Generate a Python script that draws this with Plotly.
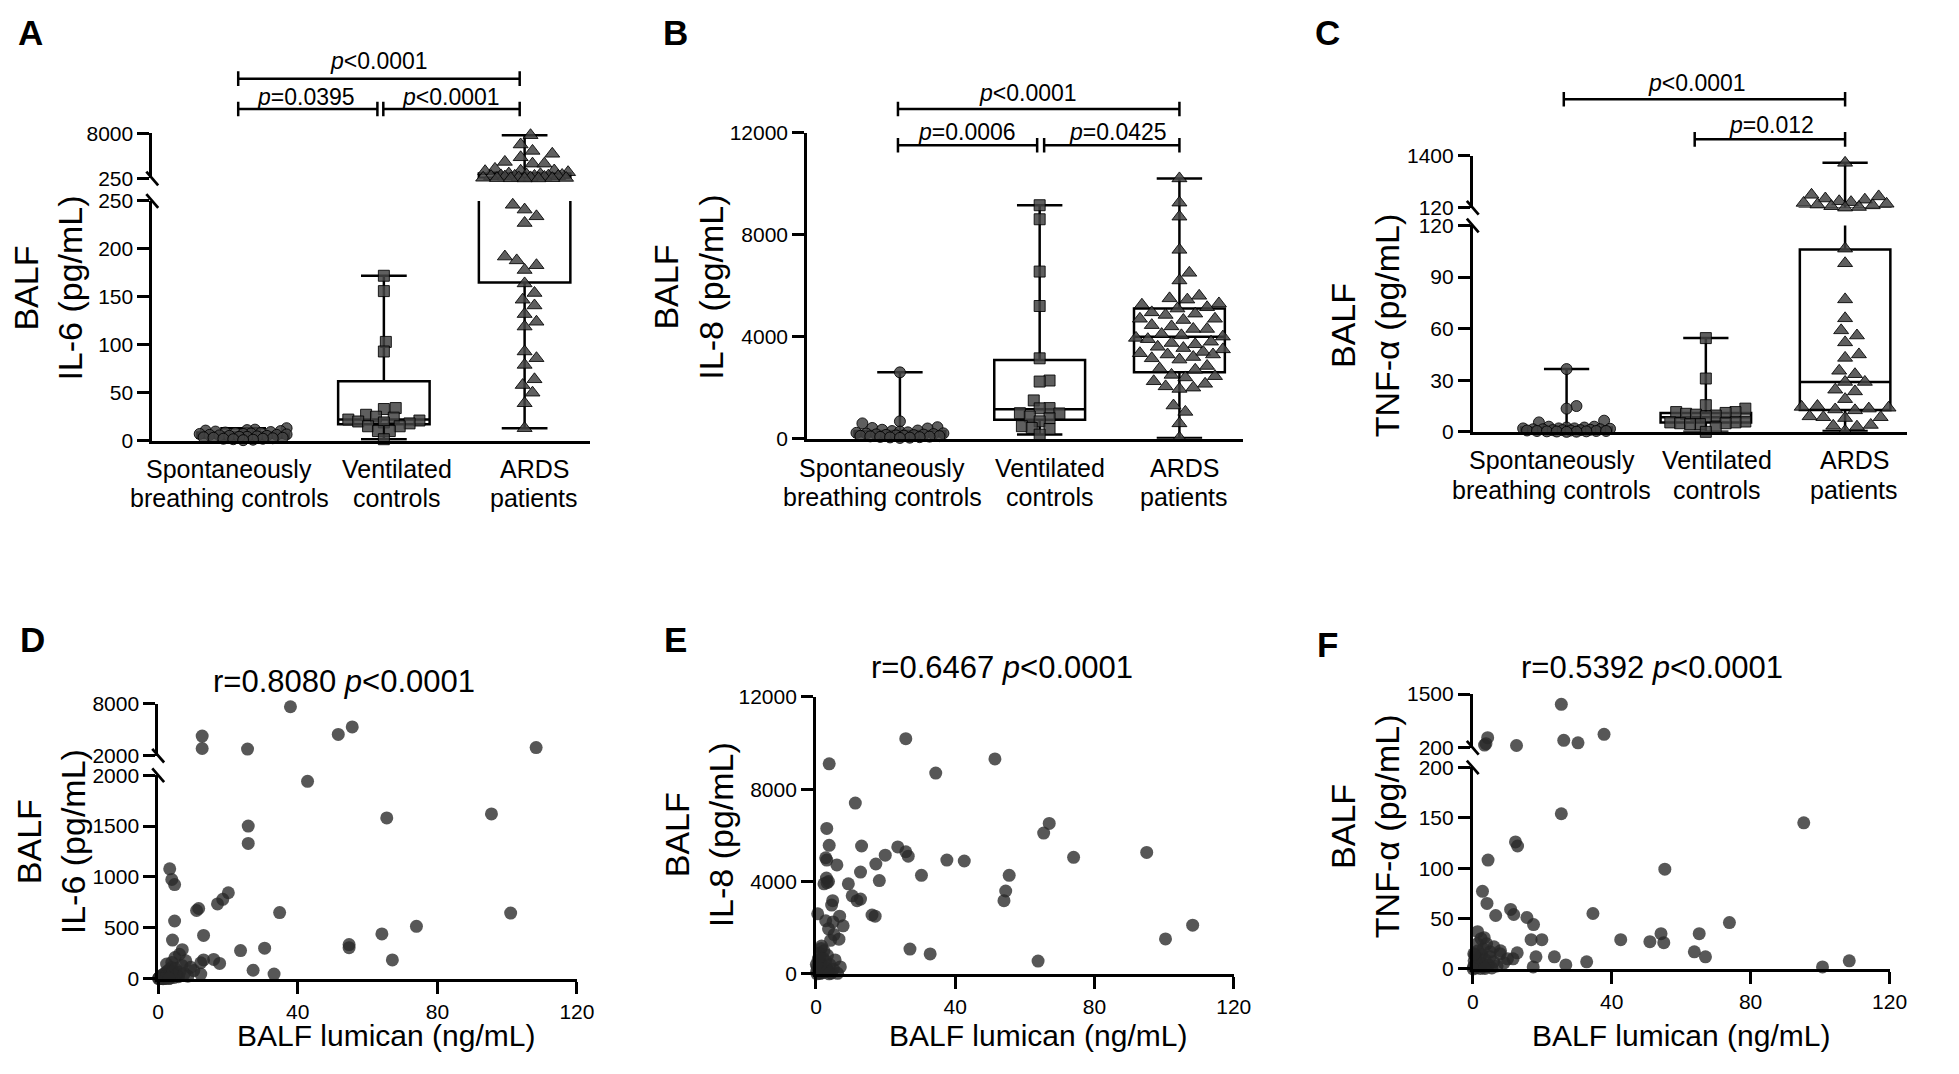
import numpy as np
import plotly.graph_objects as go

# target picture size and the page's default body margin
W, H = 1959, 1074
OFF = 8
FW, FH = W - 2 * OFF, H - 2 * OFF
FONT = "Arial, 'Liberation Sans', sans-serif"

# ---------------- data ----------------
groups_l1 = ["Spontaneously", "Ventilated", "ARDS"]
groups_l2 = ["breathing controls", "controls", "patients"]

# A: BALF IL-6 (pg/mL)
il6_spont = [13, 11.5, 11, 10.5, 10, 9.5, 9, 8.5, 8, 8, 7.5, 7, 7, 6.5, 6, 6, 5.5, 5, 5, 4.5,
             4, 4, 3.5, 3, 3, 2.5, 2, 2, 1.5, 1, 0.5]
il6_vent = [172, 156, 103, 93, 34, 33, 27, 25, 24, 22, 21, 20, 19, 18, 15, 15, 10, 10, 1.5]
il6_ards = [7700, 6100, 5000, 4500, 3900, 3100, 2800, 2800, 1900, 1620, 1580, 1500, 1330, 1090,
            980, 920, 850, 780, 730, 700, 690, 650, 650, 570, 520, 440, 430, 370, 340, 310, 300,
            280, 260, 255, 246, 241, 234, 227, 192, 188, 183, 178, 164, 154, 147, 141, 132, 124,
            119, 93, 86, 79, 64, 58, 50, 39, 13]
il6_min = [0.5, 1.5, 13]
il6_q1 = [3, 17, 165]
il6_med = [5.5, 22, 355]
il6_q3 = [8.5, 62, 1090]
il6_max = [13, 172, 7700]

# B: BALF IL-8 (pg/mL)
il8_spont = [2600, 680, 600, 450, 420, 400, 350, 320, 300, 280, 250, 230, 210, 200, 180, 170,
             160, 150, 140, 130, 120, 110, 100, 90, 80, 70, 60, 50, 40, 30]
il8_vent = [9150, 8600, 6550, 5200, 3150, 2280, 2240, 1500, 1200, 1190, 1000, 990, 870, 800,
            680, 490, 420, 380, 160]
il8_ards = [10200, 9250, 8700, 7400, 6500, 6200, 5600, 5500, 5450, 5300, 5250, 5150, 5100, 4950,
            4900, 4850, 4700, 4700, 4650, 4450, 4400, 4300, 4300, 4100, 4050, 4000, 3950, 3900,
            3800, 3750, 3700, 3600, 3550, 3500, 3400, 3350, 3300, 3300, 3200, 3150, 3100, 2850,
            2750, 2700, 2500, 2450, 2400, 2250, 2150, 2050, 2000, 1950, 1300, 1050, 600, 30]
il8_min = [30, 160, 30]
il8_q1 = [95, 740, 2600]
il8_med = [175, 1150, 4000]
il8_q3 = [300, 3080, 5100]
il8_max = [2600, 9150, 10200]

# C: BALF TNF-alpha (pg/mL)
tnf_spont = [36.5, 15, 13.5, 6.5, 5.5, 3, 3, 2.5, 2.5, 2, 2, 2, 1.8, 1.5, 1.5, 1.5, 1.2, 1, 1, 1,
             0.8, 0.8, 0.5, 0.5, 0.5, 0.3, 0.3, 0.2, 0.1, 0]
tnf_vent = [54.5, 31, 15.5, 13.5, 11.5, 11.5, 11, 10.5, 10, 9.5, 9, 6, 5.5, 5.5, 5, 5, 4.5, 4.5,
            2.5, 0]
tnf_ards = [1230, 441, 402, 350, 321, 282, 260, 241, 220, 200, 180, 160, 140, 125, 106.5, 98, 77,
            66, 59, 56, 52, 45, 43, 35.5, 33.5, 29, 29, 24.5, 23.5, 19, 15, 14.5, 14, 13.5, 13,
            12.5, 9, 8.5, 8.5, 8, 4, 3.5, 3, 0.5]
tnf_min = [0, 0, 0.5]
tnf_q1 = [0.5, 5.5, 12.7]
tnf_med = [1.5, 8.5, 29]
tnf_q3 = [2.5, 11, 106]
tnf_max = [36.5, 54.5, 1230]

# D: lumican vs IL-6
lum_d = [37.9, 55.6, 51.6, 12.6, 12.6, 25.6, 108.3,
         42.8, 95.5, 65.5, 25.8, 25.8, 3.3, 3.9, 4.7, 20.1, 18.5,
         17.0, 11.6, 11.0, 34.8, 101.0, 74.0, 64.1, 54.7, 54.7, 67.1,
         4.7, 13.0, 4.1, 23.6, 30.5, 27.2, 33.2, 15.9, 17.6, 13.0,
         12.2, 12.2, 6.9, 6.1, 4.8, 3.9, 2.4, 7.9, 9.3, 10.2,
         0.2, 0.3, 0.4, 0.5, 0.6, 0.8, 0.9, 1.0, 1.1, 1.2,
         1.3, 1.5, 1.6, 1.8, 2.0, 2.1, 2.3, 2.5, 2.6, 2.8,
         3.0, 3.2, 3.4, 3.6, 3.8, 4.0, 4.3, 4.6, 5.0, 5.3,
         5.8, 6.2, 6.8, 7.5, 8.5, 0.1, 0.7, 1.4, 2.2, 3.1]
il6_d = [7660, 5320, 4460, 4260, 2830, 2760, 2940,
         1940, 1620, 1580, 1500, 1330, 1080, 975, 925, 845, 780,
         735, 690, 670, 650, 645, 515, 440, 335, 305, 185,
         567, 425, 380, 276, 300, 83, 45, 189, 150, 185,
         157, 45, 285, 240, 208, 160, 144, 176, 112, 80,
         5, 10, 2, 15, 8, 20, 3, 30, 12, 6,
         40, 18, 4, 25, 55, 9, 35, 70, 14, 48,
         22, 90, 7, 60, 110, 30, 75, 12, 100, 40,
         20, 65, 130, 50, 25, 0, 1, 0, 2, 1]

# E: lumican vs IL-8
lum_e = [25.8, 51.4, 3.8, 34.4, 11.3, 3.1, 67.0, 65.4, 3.8, 13.1,
         23.5, 25.8, 26.5, 19.9, 17.2, 37.6, 42.6, 74.0, 95.0, 55.5,
         54.5, 54.0, 30.3, 12.8, 18.2, 9.3, 3.1, 2.8, 6.0, 3.0,
         3.6, 2.3, 3.2, 10.4, 11.8, 12.8, 4.8, 4.5, 0.5, 16.1,
         17.0, 6.8, 7.8, 2.8, 4.9, 3.6, 5.2, 6.6, 4.2, 27.0,
         32.8, 63.8, 100.4, 108.2,
         0.2, 0.4, 0.6, 0.8, 1.0, 1.1, 1.3, 1.5, 1.7, 1.9,
         2.1, 2.3, 2.5, 2.8, 3.0, 3.3, 3.6, 4.0, 4.4, 5.0,
         5.5, 6.2, 7.0, 0.3, 1.2, 2.0, 3.8, 0.1, 0.9, 1.6]
il8_e = [10190, 9315, 9100, 8700, 7400, 6300, 6520, 6100, 5570, 5540,
         5500, 5290, 5100, 5140, 4760, 4930, 4890, 5050, 5260, 4270,
         3590, 3170, 4270, 4410, 4040, 3900, 4930, 5030, 4720, 4150,
         4000, 3900, 3950, 3380, 3170, 3240, 3170, 2980, 2600, 2550,
         2500, 2500, 2080, 2300, 2250, 1950, 1700, 1500, 1450, 1070,
         860, 550, 1510, 2110,
         100, 300, 600, 200, 900, 50, 450, 1100, 150, 700,
         350, 1000, 80, 550, 250, 800, 120, 400, 30, 200,
         600, 20, 300, 0, 10, 60, 0, 400, 750, 1200]

# F: lumican vs TNF-alpha
lum_f = [25.5, 3.4, 4.3, 3.8, 12.6, 26.2, 30.3, 37.8,
         25.5, 95.3, 55.3, 73.9, 65.2, 63.8, 67.0, 51.0, 54.2, 55.0,
         42.6, 100.7, 108.4, 34.6, 32.8, 26.8, 12.3, 12.9, 4.4, 2.8,
         4.1, 6.6, 10.9, 11.8, 15.6, 17.5, 19.9, 16.8, 23.5, 17.4,
         18.2, 12.8, 11.6, 1.4, 3.3, 6.1, 0.6, 7.9, 5.0, 10.0,
         0.2, 0.4, 0.6, 0.8, 1.0, 1.2, 1.5, 1.7, 2.0, 2.2,
         2.5, 2.8, 3.0, 3.3, 3.6, 4.0, 4.5, 5.0, 5.5, 6.0,
         7.0, 8.0, 9.0, 0.3, 1.3, 2.4, 0.1, 3.5]
tnf_f = [1250, 266, 445, 300, 257, 380, 322, 526,
         154, 145, 99, 46, 35, 17, 12, 27, 35, 26,
         29, 2, 8, 55, 7, 4, 126, 122, 108, 77,
         65, 53, 59, 54, 51, 44, 29, 29, 12, 2,
         12, 16, 10, 37, 31, 22, 14, 15, 17, 10,
         2, 8, 4, 12, 1, 6, 18, 3, 10, 0.5,
         14, 5, 20, 2, 9, 25, 4, 12, 1, 7,
         3, 18, 6, 15, 25, 30, 0, 0.5]

# ---------------- helpers ----------------
def fx(px):
    return (px - OFF) / FW


def fy(py):
    return 1 - (py - OFF) / FH


AX_LW = 2.7
BOX_LW = 2.5
fig = go.Figure()
layout = dict(width=FW, height=FH, autosize=False, margin=dict(l=0, r=0, t=0, b=0, pad=0),
              showlegend=False, paper_bgcolor="white", plot_bgcolor="rgba(0,0,0,0)",
              font=dict(family=FONT, color="black"))
annotations = []
shapes = []


def axkey(name):
    return ("xaxis" if name[0] == "x" else "yaxis") + name[1:]


def y_axis(top, bot, rng, tickvals, anchor):
    return dict(domain=[fy(bot), fy(top)], range=rng, anchor=anchor,
                showline=True, linecolor="black", linewidth=AX_LW,
                ticks="outside", ticklen=12, tickwidth=AX_LW, tickcolor="black",
                tickmode="array", tickvals=tickvals, ticktext=[f"{t:g}" for t in tickvals],
                tickfont=dict(family=FONT, size=21, color="black"),
                showgrid=False, zeroline=False, fixedrange=True)


def swarm(values, lo, hi, seg_px, cat_px, diam, half_px=44):
    v = np.asarray(values, float)
    y = (v - lo) / (hi - lo) * seg_px
    cands = [0.0]
    for k in np.arange(2, half_px + 0.1, 2):
        cands += [k, -k]
    px, py = [], []
    off = np.zeros(len(v))
    need = diam * 0.9
    for i in np.argsort(y):
        best, best_d = 0.0, -1.0
        for c in cands:
            if not px:
                best = c
                break
            d = np.min(np.hypot(np.array(px) - c, np.array(py) - y[i]))
            if d >= need:
                best = c
                break
            if d > best_d:
                best_d, best = d, c
        off[i] = best
        px.append(best)
        py.append(y[i])
    return off / cat_px


def break_marks(ax_px, y_up_bot, y_low_top):
    for yy in (y_up_bot, y_low_top):
        shapes.append(dict(type="line", xref="paper", yref="paper",
                           x0=fx(ax_px - 6), y0=fy(yy - 7), x1=fx(ax_px + 6), y1=fy(yy + 7),
                           line=dict(color="black", width=AX_LW)))


def label(x, y_px, text, size, xref="paper", angle=0):
    annotations.append(dict(x=x, y=fy(y_px), xref=xref, yref="paper", text=text,
                            showarrow=False, textangle=angle, xanchor="center",
                            yanchor="middle", font=dict(family=FONT, size=size, color="black")))


def bracket(xref, x0, x1, y_px, tick=7.5):
    for (a0, b0, a1, b1) in [(x0, y_px, x1, y_px), (x0, y_px - tick, x0, y_px + tick),
                             (x1, y_px - tick, x1, y_px + tick)]:
        shapes.append(dict(type="line", xref=xref, yref="paper", x0=a0, x1=a1,
                           y0=fy(b0), y1=fy(b1), line=dict(color="black", width=BOX_LW)))


# ---------------- box panels (A-C) ----------------
symbols = [("circle", 11, 11), ("square", 11, 11), ("triangle-up", 13, 14)]
box_panels = [
    dict(x="x", left=148, right=591, cat0=240, step=142.5,
         segs=[("y", 0, 250, 193, 438, [0, 50, 100, 150, 200, 250]),
               ("y2", 250, 8000, 124, 170, [250, 8000])],
         data=[il6_spont, il6_vent, il6_ards],
         stats=(il6_min, il6_q1, il6_med, il6_q3, il6_max),
         lab_x=[-0.10, 1.09, 2.07], lab_y=(467, 497)),
    dict(x="x2", left=811, right=1252, cat0=905, step=141.5,
         segs=[("y3", 0, 12000, 123, 436, [0, 4000, 8000, 12000])],
         data=[il8_spont, il8_vent, il8_ards],
         stats=(il8_min, il8_q1, il8_med, il8_q3, il8_max),
         lab_x=[-0.127, 1.074, 2.035], lab_y=(466, 496)),
    dict(x="x3", left=1485, right=1925, cat0=1580, step=141,
         segs=[("y4", 0, 120, 218, 429, [0, 30, 60, 90, 120]),
               ("y5", 120, 1400, 147, 200, [120, 1400])],
         data=[tnf_spont, tnf_vent, tnf_ards],
         stats=(tnf_min, tnf_q1, tnf_med, tnf_q3, tnf_max),
         lab_x=[-0.106, 1.078, 2.064], lab_y=(458, 488)),
]

for p in box_panels:
    xn = p["x"]
    rng = [(p["left"] - p["cat0"]) / p["step"], (p["right"] - p["cat0"]) / p["step"]]
    layout[axkey(xn)] = dict(domain=[fx(p["left"]), fx(p["right"])], range=rng,
                             anchor=p["segs"][0][0], showline=True, linecolor="black",
                             linewidth=AX_LW, ticks="", showticklabels=False,
                             showgrid=False, zeroline=False, fixedrange=True)
    for gi in range(3):
        label(p["lab_x"][gi], p["lab_y"][0], groups_l1[gi], 25, xref=xn)
        label(p["lab_x"][gi], p["lab_y"][1], groups_l2[gi], 25, xref=xn)
    mn, q1, med, q3, mx = p["stats"]
    for (yn, lo, hi, top, bot, tv) in p["segs"]:
        layout[axkey(yn)] = y_axis(top, bot, [lo, hi], tv, xn)
        keep = [i for i in range(3) if mx[i] > lo]
        fig.add_trace(go.Box(x=keep, q1=[q1[i] for i in keep], median=[med[i] for i in keep],
                             q3=[q3[i] for i in keep], lowerfence=[mn[i] for i in keep],
                             upperfence=[mx[i] for i in keep], width=0.65, whiskerwidth=0.5,
                             boxpoints=False, fillcolor="rgba(0,0,0,0)",
                             line=dict(color="black", width=BOX_LW),
                             xaxis=xn, yaxis=yn, hoverinfo="skip"))
        for gi, vals in enumerate(p["data"]):
            v = np.asarray(vals, float)
            m = (v <= hi) if lo == 0 else (v > lo)
            if not m.any():
                continue
            sym, size, diam = symbols[gi]
            off = swarm(v[m], lo, hi, bot - top, p["step"], diam)
            fig.add_trace(go.Scatter(x=gi + off, y=v[m], mode="markers", cliponaxis=False,
                                     marker=dict(symbol=sym, size=size,
                                                 color="rgba(67,67,67,0.85)",
                                                 line=dict(color="rgba(0,0,0,0.85)", width=1)),
                                     xaxis=xn, yaxis=yn, hoverinfo="skip"))
    if len(p["segs"]) > 1:
        break_marks(p["left"], p["segs"][1][4], p["segs"][0][3])

# ---------------- scatter panels (D-F) ----------------
scatter_panels = [
    dict(x="x4", left=154, right=578,
         segs=[("y6", 0, 2000, 780, 988, [0, 500, 1000, 1500, 2000]),
               ("y7", 2000, 8000, 707, 760, [2000, 8000])],
         lum=lum_d, val=il6_d),
    dict(x="x5", left=820, right=1243,
         segs=[("y8", 0, 12000, 700, 983, [0, 4000, 8000, 12000])],
         lum=lum_e, val=il8_e),
    dict(x="x6", left=1485, right=1907,
         segs=[("y9", 0, 200, 772, 978, [0, 50, 100, 150, 200]),
               ("y10", 200, 1500, 697, 752, [200, 1500])],
         lum=lum_f, val=tnf_f),
]

for p in scatter_panels:
    xn = p["x"]
    layout[axkey(xn)] = dict(domain=[fx(p["left"]), fx(p["right"])], range=[0, 120],
                             anchor=p["segs"][0][0], showline=True, linecolor="black",
                             linewidth=AX_LW, ticks="outside", ticklen=12, tickwidth=AX_LW,
                             tickcolor="black", tickmode="array", tickvals=[0, 40, 80, 120],
                             tickfont=dict(family=FONT, size=21, color="black"),
                             showgrid=False, zeroline=False, fixedrange=True)
    lum = np.asarray(p["lum"], float)
    val = np.asarray(p["val"], float)
    for (yn, lo, hi, top, bot, tv) in p["segs"]:
        layout[axkey(yn)] = y_axis(top, bot, [lo, hi], tv, xn)
        m = (val <= hi) if lo == 0 else (val > lo)
        fig.add_trace(go.Scatter(x=lum[m], y=val[m], mode="markers", cliponaxis=False,
                                 marker=dict(symbol="circle", size=13,
                                             color="rgba(40,40,40,0.78)", line=dict(width=0)),
                                 xaxis=xn, yaxis=yn, hoverinfo="skip"))
    if len(p["segs"]) > 1:
        break_marks(p["left"], p["segs"][1][4], p["segs"][0][3])

# ---------------- significance brackets ----------------
bracket("x", -0.035, 1.965, 68)
bracket("x", -0.035, 0.954, 99)
bracket("x", 0.996, 1.965, 99)
label(0.965, 50, "<i>p</i>&lt;0.0001", 23, xref="x")
label(0.449, 87, "<i>p</i>=0.0395", 23, xref="x")
label(1.474, 87, "<i>p</i>&lt;0.0001", 23, xref="x")

bracket("x2", -0.014, 2.0, 99)
bracket("x2", -0.014, 0.982, 136)
bracket("x2", 1.032, 2.0, 136)
label(0.92, 83, "<i>p</i>&lt;0.0001", 23, xref="x2")
label(0.48, 122, "<i>p</i>=0.0006", 23, xref="x2")
label(1.558, 122, "<i>p</i>=0.0425", 23, xref="x2")

bracket("x3", -0.02, 2.0, 89)
bracket("x3", 0.92, 2.0, 130)
label(0.936, 72, "<i>p</i>&lt;0.0001", 23, xref="x3")
label(1.472, 115, "<i>p</i>=0.012", 23, xref="x3")

# ---------------- titles / labels ----------------
for (xp, yp, t) in [(25, 21, "A"), (678, 21, "B"), (1338, 21, "C"),
                    (27, 641, "D"), (678, 641, "E"), (1338, 646, "F")]:
    label(fx(xp), yp, f"<b>{t}</b>", 35)

for (xp, yp, t) in [(42, 282, "BALF<br>IL-6 (pg/mL)"), (691, 281, "BALF<br>IL-8 (pg/mL)"),
                    (1376, 320, "BALF<br>TNF-α (pg/mL)"), (45, 848, "BALF<br>IL-6 (pg/mL)"),
                    (701, 841, "BALF<br>IL-8 (pg/mL)"), (1376, 832, "BALF<br>TNF-α (pg/mL)")]:
    label(fx(xp), yp, t, 34, angle=-90)

for (xp, yp, t) in [(342, 684, "r=0.8080 <i>p</i>&lt;0.0001"), (1008, 670, "r=0.6467 <i>p</i>&lt;0.0001"),
                    (1666, 670, "r=0.5392 <i>p</i>&lt;0.0001")]:
    label(fx(xp), yp, t, 31)

for xp in (385, 1045, 1696):
    label(fx(xp), 1046, "BALF lumican (ng/mL)", 30)

layout["annotations"] = annotations
layout["shapes"] = shapes
fig.update_layout(**layout)

fig.write_html("out.html", config={"displayModeBar": False})
